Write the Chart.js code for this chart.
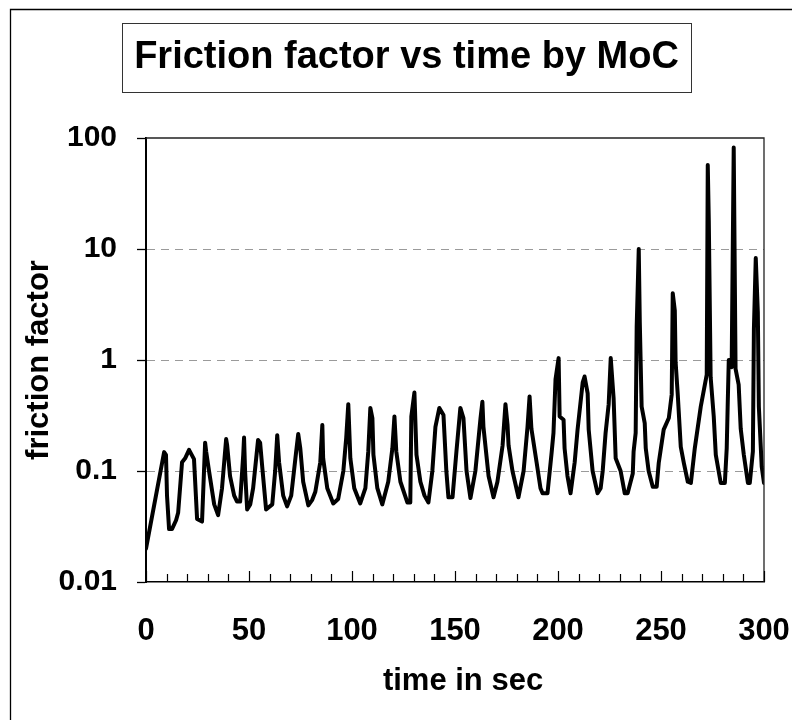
<!DOCTYPE html>
<html>
<head>
<meta charset="utf-8">
<script src="https://cdn.jsdelivr.net/npm/chart.js@4/dist/chart.umd.min.js"></script>
<style>
  html, body { margin: 0; padding: 0; background: #fff; }
  canvas { display: block; }
</style>
</head>
<body>
<canvas id="c" width="792" height="720"></canvas>
<script>
const chartTitle = "Friction factor vs time by MoC";
const xTitle = "time in sec";
const yTitle = "friction factor";
const yTickValues = [0.01, 0.1, 1, 10, 100];
const yTickLabels = ["0.01", "0.1", "1", "10", "100"];
const xTickLabels = ["0", "50", "100", "150", "200", "250", "300"];

const times = [
  0, 8.8, 9.7, 10.2, 11.2, 12.6, 14.6, 15.6, 17.5, 19.0,
  20.9, 23.3, 24.8, 27.2, 28.7, 29.2, 30.6, 33.1, 35.0, 36.9,
  38.9, 39.4, 40.8, 42.8, 44.2, 45.7, 47.2, 47.6, 48.1, 49.1,
  50.6, 52.0, 54.4, 55.4, 56.4, 58.3, 61.3, 62.7, 63.7, 64.6,
  66.6, 68.5, 70.5, 72.9, 73.9, 74.9, 76.3, 78.8, 80.7, 82.2,
  84.6, 85.6, 86.0, 88.0, 90.9, 93.3, 95.8, 97.2, 98.2, 99.2,
  101.1, 104.0, 106.5, 107.9, 108.9, 109.9, 110.4, 112.3, 114.7, 117.6,
  119.6, 120.6, 121.5, 123.5, 126.9, 128.3, 128.8, 130.3, 131.3, 133.2,
  135.2, 137.1, 139.0, 140.5, 142.4, 144.4, 145.8, 146.8, 148.8, 150.7,
  152.6, 154.1, 155.6, 157.5, 159.9, 162.4, 163.3, 163.8, 166.3, 168.7,
  170.6, 173.1, 174.5, 175.5, 176.0, 177.9, 180.8, 183.3, 185.2, 186.2,
  187.1, 189.6, 191.5, 192.5, 194.9, 196.9, 197.8, 198.8, 200.3, 200.8,
  202.7, 203.2, 204.6, 206.1, 208.1, 209.5, 212.0, 212.9, 214.4, 214.9,
  216.8, 219.2, 220.7, 221.7, 223.1, 224.6, 225.6, 227.0, 228.0, 230.4,
  232.4, 233.8, 236.3, 236.7, 237.7, 238.2, 239.2, 239.7, 240.6, 242.1,
  242.6, 244.0, 246.0, 247.9, 248.9, 251.3, 253.8, 255.2, 255.7, 256.7,
  257.1, 258.1, 259.6, 261.1, 263.0, 264.5, 266.4, 269.3, 272.2, 272.7,
  273.2, 274.1, 275.6, 276.6, 279.0, 281.0, 281.9, 282.4, 282.9, 283.8,
  284.3, 285.3, 286.2, 287.7, 288.7, 290.2, 292.2, 293.1, 294.6, 295.1,
  296.0, 297.0, 297.5, 298.9, 300.0
];

const frictionFactor = [
  0.020, 0.148, 0.14, 0.06, 0.03, 0.03, 0.036, 0.042, 0.12, 0.13,
  0.155, 0.128, 0.037, 0.035, 0.18, 0.15, 0.10, 0.05, 0.04, 0.07,
  0.194, 0.17, 0.09, 0.06, 0.053, 0.053, 0.14, 0.2, 0.1, 0.045,
  0.05, 0.07, 0.19, 0.18, 0.11, 0.045, 0.05, 0.1, 0.21, 0.12,
  0.06, 0.048, 0.06, 0.15, 0.215, 0.16, 0.08, 0.049, 0.055, 0.065,
  0.12, 0.26, 0.13, 0.07, 0.051, 0.056, 0.1, 0.2, 0.4, 0.13,
  0.07, 0.051, 0.07, 0.15, 0.37, 0.3, 0.14, 0.07, 0.05, 0.08,
  0.16, 0.31, 0.15, 0.08, 0.052, 0.052, 0.31, 0.51, 0.14, 0.08,
  0.06, 0.052, 0.1, 0.25, 0.37, 0.32, 0.1, 0.058, 0.058, 0.15,
  0.37, 0.3, 0.1, 0.057, 0.1, 0.3, 0.42, 0.25, 0.09, 0.058,
  0.08, 0.17, 0.4, 0.26, 0.17, 0.1, 0.058, 0.1, 0.25, 0.47,
  0.24, 0.12, 0.07, 0.063, 0.063, 0.146, 0.22, 0.67, 1.04, 0.31,
  0.29, 0.16, 0.09, 0.063, 0.12, 0.236, 0.63, 0.71, 0.5, 0.236,
  0.1, 0.063, 0.07, 0.1, 0.22, 0.4, 1.04, 0.45, 0.13, 0.1,
  0.063, 0.063, 0.095, 0.15, 0.22, 2.0, 10.0, 2.2, 0.38, 0.27,
  0.16, 0.1, 0.072, 0.072, 0.118, 0.236, 0.3, 0.49, 4.0, 2.8,
  0.95, 0.5, 0.165, 0.118, 0.08, 0.078, 0.16, 0.38, 0.74, 57,
  18, 0.7, 0.31, 0.14, 0.078, 0.078, 0.16, 0.41, 1.0, 1.0,
  0.86, 82, 0.83, 0.6, 0.24, 0.14, 0.078, 0.078, 0.15, 1.9,
  8.3, 2.7, 0.38, 0.109, 0.078
];

const FONT = '"Liberation Sans", Arial, Helvetica, sans-serif';

const decorPlugin = {
  id: 'decor',
  beforeDraw(chart) {
    const ctx = chart.ctx;
    ctx.save();
    ctx.fillStyle = '#fff';
    ctx.fillRect(0, 0, chart.width, chart.height);
    ctx.restore();
  },
  afterDraw(chart) {
    const ctx = chart.ctx;
    const a = chart.chartArea;
    const xs = chart.scales.x;
    ctx.save();
    // outer frame (left and top edges)
    ctx.strokeStyle = '#000';
    ctx.lineWidth = 1.3;
    ctx.beginPath();
    ctx.moveTo(10.5, chart.height);
    ctx.lineTo(10.5, 9.5);
    ctx.lineTo(chart.width, 9.5);
    ctx.stroke();
    // title box
    ctx.strokeStyle = '#333';
    ctx.lineWidth = 1;
    ctx.strokeRect(122.5, 23.5, 569, 69);
    ctx.fillStyle = '#000';
    ctx.font = 'bold 38px ' + FONT;
    ctx.textAlign = 'center';
    ctx.textBaseline = 'middle';
    ctx.fillText(chartTitle, 406.5, 58);
    // x axis title
    ctx.font = 'bold 31px ' + FONT;
    ctx.fillText(xTitle, 463, 681);
    // plot border top and right
    ctx.strokeStyle = '#222';
    ctx.lineWidth = 1.3;
    ctx.beginPath();
    ctx.moveTo(a.left, a.top);
    ctx.lineTo(a.right, a.top);
    ctx.lineTo(a.right, a.bottom);
    ctx.stroke();
    // inside tick marks on x axis
    ctx.strokeStyle = '#000';
    ctx.lineWidth = 1.2;
    ctx.beginPath();
    for (let v = 0; v <= 300; v += 10) {
      const px = Math.round(xs.getPixelForValue(v)) + 0.5;
      const len = (v % 50 === 0) ? 11 : 8;
      ctx.moveTo(px, a.bottom);
      ctx.lineTo(px, a.bottom - len);
    }
    ctx.stroke();
    ctx.restore();
  }
};

const points = times.map((t, i) => ({ x: t, y: frictionFactor[i] }));

new Chart(document.getElementById('c'), {
  type: 'line',
  data: {
    datasets: [{
      data: points,
      borderColor: '#000',
      borderWidth: 4,
      pointRadius: 0,
      tension: 0,
      fill: false,
      borderJoinStyle: 'round',
      borderCapStyle: 'round'
    }]
  },
  options: {
    responsive: false,
    animation: false,
    devicePixelRatio: 1,
    layout: { padding: { left: 0, right: 28, top: 138, bottom: 0 } },
    plugins: { legend: { display: false }, title: { display: false }, tooltip: { enabled: false } },
    scales: {
      x: {
        type: 'linear',
        min: 0, max: 300,
        afterFit(s) { s.height = 138; s.paddingLeft = 0; s.paddingRight = 0; },
        afterBuildTicks(s) { s.ticks = xTickLabels.map(l => ({ value: Number(l) })); },
        ticks: {
          autoSkip: false, maxRotation: 0, minRotation: 0, padding: 31,
          color: '#000',
          font: { family: FONT, size: 31, weight: 'bold' },
          callback: (v, i) => xTickLabels[i]
        },
        grid: { display: false, drawTicks: false, drawOnChartArea: false },
        border: { display: true, color: '#000', width: 1.5 },
        title: { display: false }
      },
      y: {
        type: 'logarithmic',
        min: 0.01, max: 100,
        afterFit(s) { s.width = 146; s.paddingTop = 0; s.paddingBottom = 0; },
        afterBuildTicks(s) { s.ticks = yTickValues.map(v => ({ value: v, major: true })); },
        ticks: {
          autoSkip: false, padding: 20, color: '#000',
          font: { family: FONT, size: 30, weight: 'bold' },
          callback: (v, i) => yTickLabels[i]
        },
        grid: {
          display: true,
          drawOnChartArea: true,
          drawTicks: true,
          tickLength: 9,
          tickColor: '#000',
          tickWidth: 1.3,
          lineWidth: 1,
          color: (ctx) => {
            const v = ctx.tick ? ctx.tick.value : null;
            return (v === 0.1 || v === 1 || v === 10) ? '#9a9a9a' : 'rgba(0,0,0,0)';
          }
        },
        border: { display: true, color: '#000', width: 2, dash: [8, 6] },
        title: {
          display: true, text: yTitle, color: '#000',
          font: { family: FONT, size: 31, weight: 'bold' },
          padding: { top: 21, bottom: 0 }
        }
      }
    }
  },
  plugins: [decorPlugin]
});
</script>
</body>
</html>
